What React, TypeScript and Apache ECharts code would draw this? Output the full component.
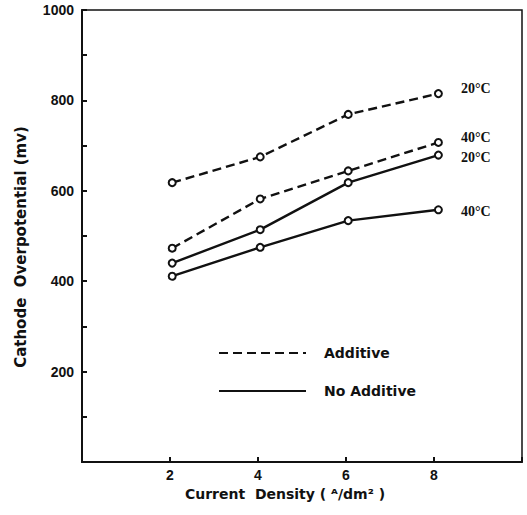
import React, { useEffect, useRef } from "react";
import * as echarts from "echarts";

const xValues = [2.05, 4.05, 6.05, 8.1];
const additive20 = [618, 675, 769, 815];
const additive40 = [473, 582, 644, 707];
const noAdditive20 = [440, 514, 618, 679];
const noAdditive40 = [411, 475, 534, 558];
const xTicks = [2, 4, 6, 8];
const yTicks = [200, 400, 600, 800, 1000];

const BLACK = "#111";

function mk(name: string, ys: number[], dashed: boolean, tag: string, dy: number) {
  return {
    name,
    type: "line",
    data: ys.map((y, i) => {
      const item: any = { value: [xValues[i], y] };
      if (i === ys.length - 1) {
        item.label = {
          show: true,
          formatter: tag,
          position: "right",
          distance: 18,
          offset: [0, dy],
          color: BLACK,
          fontFamily: "Liberation Serif",
          fontWeight: "bold",
          fontSize: 14,
        };
      }
      return item;
    }),
    symbol: "emptyCircle",
    symbolSize: 7,
    showSymbol: true,
    itemStyle: { color: BLACK, borderColor: BLACK, borderWidth: 2 },
    lineStyle: { color: BLACK, width: 2.4, type: dashed ? [9, 5] : "solid" },
    label: { show: false },
    z: 3,
  };
}

export default function App() {
  const ref = useRef<HTMLDivElement>(null);
  useEffect(() => {
    if (!ref.current) return;
    const chart = echarts.init(ref.current, null, { renderer: "svg" });
    chart.setOption({
      animation: false,
      backgroundColor: "#fff",
      grid: {
        left: 82,
        right: 5,
        top: 10,
        bottom: 53,
        show: true,
        borderColor: BLACK,
        borderWidth: 1.5,
      },
      legend: {
        data: ["Additive", "No Additive"],
        orient: "vertical",
        left: 213,
        top: 341,
        itemWidth: 87,
        itemHeight: 14,
        itemGap: 24,
        selectedMode: false,
        itemStyle: { opacity: 0 },
        textStyle: {
          color: BLACK,
          fontFamily: "DejaVu Sans",
          fontWeight: "bold",
          fontSize: 14,
          padding: [0, 0, 0, 13],
        },
      },
      xAxis: {
        type: "value",
        min: 0,
        max: 10,
        interval: 2,
        name: "Current  Density ( ᴬ/dm² )",
        nameLocation: "middle",
        nameGap: 16,
        nameTextStyle: {
          color: BLACK,
          fontFamily: "DejaVu Sans",
          fontWeight: "bold",
          fontSize: 14,
          padding: [0, 34, 0, 0],
        },
        axisLine: { show: true, lineStyle: { color: BLACK, width: 2 } },
        axisTick: { show: true, inside: true, length: 5, lineStyle: { color: BLACK, width: 2 } },
        splitLine: { show: false },
        axisLabel: {
          margin: 6,
          color: BLACK,
          fontFamily: "Liberation Sans",
          fontWeight: "bold",
          fontSize: 14,
          formatter: (v: number) => (xTicks.includes(v) ? String(v) : ""),
        },
      },
      yAxis: {
        type: "value",
        min: 0,
        max: 1000,
        interval: 100,
        name: "Cathode  Overpotential (mv)",
        nameLocation: "middle",
        nameGap: 54,
        nameTextStyle: {
          color: BLACK,
          fontFamily: "DejaVu Sans",
          fontWeight: "bold",
          fontSize: 15,
          padding: [0, 22, 0, 0],
        },
        axisLine: { show: true, lineStyle: { color: BLACK, width: 2 } },
        axisTick: { show: true, inside: true, length: 5, lineStyle: { color: BLACK, width: 2 } },
        splitLine: { show: false },
        axisLabel: {
          margin: 8,
          color: BLACK,
          fontFamily: "Liberation Sans",
          fontWeight: "bold",
          fontSize: 14,
          formatter: (v: number) => (yTicks.includes(v) ? String(v) : ""),
        },
      },
      series: [
        mk("Additive 20°C", additive20, true, "20°C", -5),
        mk("Additive 40°C", additive40, true, "40°C", -5),
        mk("No Additive 20°C", noAdditive20, false, "20°C", 2),
        mk("No Additive 40°C", noAdditive40, false, "40°C", 2),
        {
          name: "Additive",
          type: "line",
          data: [],
          symbol: "none",
          symbolSize: 0,
          lineStyle: { color: BLACK, width: 2.4, type: [9, 5] },
          itemStyle: { color: BLACK },
        },
        {
          name: "No Additive",
          type: "line",
          data: [],
          symbol: "none",
          symbolSize: 0,
          lineStyle: { color: BLACK, width: 2.4, type: "solid" },
          itemStyle: { color: BLACK },
        },
      ],
    });
    return () => chart.dispose();
  }, []);
  return <div ref={ref} style={{ width: 527, height: 515, position: "absolute", left: 0, top: 0 }} />;
}
